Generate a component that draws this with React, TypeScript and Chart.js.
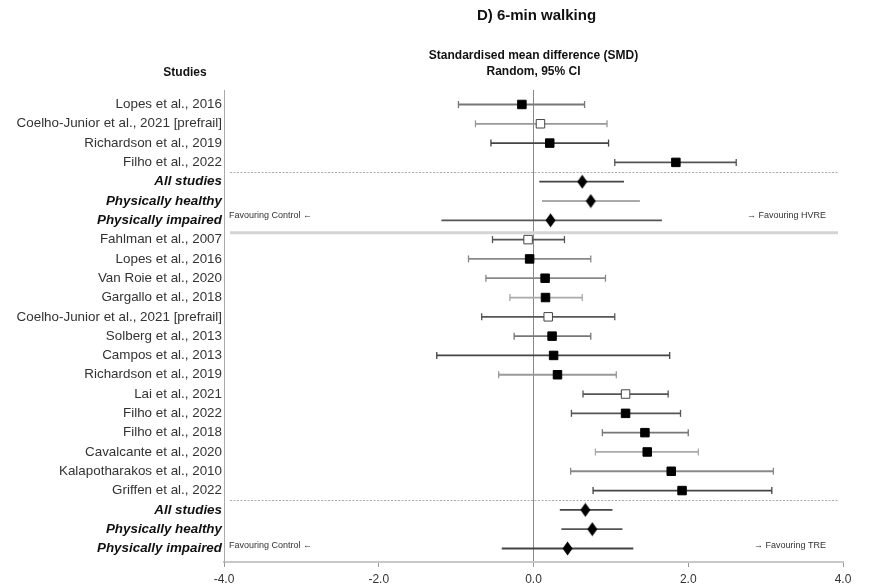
import React, { useEffect, useRef } from 'react';
import { Chart, registerables } from 'chart.js';

Chart.register(...registerables);

const studies = [
  'Lopes et al., 2016',
  'Coelho-Junior et al., 2021 [prefrail]',
  'Richardson et al., 2019',
  'Filho et al., 2022',
  'All studies',
  'Physically healthy',
  'Physically impaired',
  'Fahlman et al., 2007',
  'Lopes et al., 2016',
  'Van Roie et al., 2020',
  'Gargallo et al., 2018',
  'Coelho-Junior et al., 2021 [prefrail]',
  'Solberg et al., 2013',
  'Campos et al., 2013',
  'Richardson et al., 2019',
  'Lai et al., 2021',
  'Filho et al., 2022',
  'Filho et al., 2018',
  'Cavalcante et al., 2020',
  'Kalapotharakos et al., 2010',
  'Griffen et al., 2022',
  'All studies',
  'Physically healthy',
  'Physically impaired',
];

const smd = [-0.15, 0.09, 0.21, 1.84, 0.63, 0.74, 0.22, -0.07, -0.05, 0.15, 0.155, 0.19, 0.24, 0.26, 0.31, 1.19, 1.19, 1.44, 1.47, 1.78, 1.92, 0.67, 0.76, 0.44];
const ciLow = [-0.97, -0.75, -0.55, 1.05, 0.075, 0.11, -1.19, -0.53, -0.84, -0.615, -0.305, -0.67, -0.25, -1.25, -0.45, 0.64, 0.49, 0.89, 0.8, 0.48, 0.77, 0.34, 0.36, -0.41];
const ciHigh = [0.66, 0.95, 0.97, 2.62, 1.17, 1.375, 1.66, 0.4, 0.74, 0.93, 0.63, 1.05, 0.74, 1.76, 1.07, 1.74, 1.9, 2.0, 2.13, 3.1, 3.08, 1.02, 1.15, 1.29];
// 'f' = filled square, 'o' = open square, 's' = summary diamond
const markerKind = ['f', 'o', 'f', 'f', 's', 's', 's', 'o', 'f', 'f', 'f', 'o', 'f', 'f', 'f', 'o', 'f', 'f', 'f', 'f', 'f', 's', 's', 's'];
const xTicks = [-4, -2, 0, 2, 4];

const title = 'D) 6-min walking';
const effectTitle = ['Standardised mean difference (SMD)', 'Random, 95% CI'];
const studiesHeader = 'Studies';
const favourLeft = 'Favouring Control \u2190';
const favourRightTop = '\u2192 Favouring HVRE';
const favourRightBottom = '\u2192 Favouring TRE';

// styles (kept separate from data)
const ciShade = ['#777', '#999', '#444', '#555', '#444', '#aaa', '#555', '#555', '#888', '#888', '#aaa', '#555', '#777', '#444', '#999', '#555', '#555', '#777', '#aaa', '#888', '#444', '#444', '#555', '#444'];
const FONT = '"Liberation Sans", Arial, sans-serif';

function makeDiamond(): HTMLCanvasElement {
  const c = document.createElement('canvas');
  c.width = 11;
  c.height = 15;
  const g = c.getContext('2d')!;
  g.fillStyle = '#000';
  g.beginPath();
  g.moveTo(5.5, 0.5);
  g.lineTo(10.5, 7.5);
  g.lineTo(5.5, 14.5);
  g.lineTo(0.5, 7.5);
  g.closePath();
  g.fill();
  return c;
}

export default function App() {
  const ref = useRef<HTMLCanvasElement | null>(null);

  useEffect(() => {
    if (!ref.current) return;
    const diamond = makeDiamond();
    const rows = studies.map((_, i) => i);

    const ciSets = rows.map((i) => ({
      type: 'scatter' as const,
      data: [
        { x: ciLow[i], y: i },
        { x: ciHigh[i], y: i },
      ],
      showLine: true,
      borderColor: ciShade[i],
      borderWidth: 1.8,
      pointRadius: 0,
      order: 3,
    }));

    const capPoints: { x: number; y: number }[] = [];
    const capColors: string[] = [];
    rows.forEach((i) => {
      if (markerKind[i] !== 's') {
        capPoints.push({ x: ciLow[i], y: i }, { x: ciHigh[i], y: i });
        capColors.push(ciShade[i], ciShade[i]);
      }
    });

    const overlay = {
      id: 'forestOverlay',
      beforeDatasetsDraw(chart: any) {
        const { ctx, chartArea, scales } = chart;
        const y = scales.y;
        const x0 = chartArea.left + 6;
        const x1 = chartArea.right - 5;
        ctx.save();
        ctx.strokeStyle = '#aaa';
        ctx.lineWidth = 1;
        ctx.setLineDash([2, 1.5]);
        [3.5, 20.5].forEach((r) => {
          const py = Math.round(y.getPixelForValue(r)) + 0.5;
          ctx.beginPath();
          ctx.moveTo(x0, py);
          ctx.lineTo(x1, py);
          ctx.stroke();
        });
        ctx.setLineDash([]);
        ctx.strokeStyle = '#d4d4d4';
        ctx.lineWidth = 3;
        const py = y.getPixelForValue(6.65);
        ctx.beginPath();
        ctx.moveTo(x0, py);
        ctx.lineTo(x1, py);
        ctx.stroke();
        ctx.restore();
      },
      afterDraw(chart: any) {
        const { ctx, chartArea, scales } = chart;
        const cx = scales.x.getPixelForValue(0);
        ctx.save();
        ctx.fillStyle = '#111';
        ctx.textAlign = 'center';
        ctx.textBaseline = 'middle';
        ctx.font = `bold 15px ${FONT}`;
        ctx.fillText(title, cx + 3, 16);
        ctx.font = `bold 12px ${FONT}`;
        ctx.fillText(effectTitle[0], cx, 56);
        ctx.fillText(effectTitle[1], cx, 72);
        ctx.fillText(studiesHeader, 185, 73);

        ctx.font = `9px ${FONT}`;
        ctx.fillStyle = '#333';
        const yTop = scales.y.getPixelForValue(6) - 5;
        const yBot = scales.y.getPixelForValue(23) - 3;
        ctx.textAlign = 'left';
        ctx.fillText(favourLeft, chartArea.left + 5, yTop);
        ctx.fillText(favourLeft, chartArea.left + 5, yBot);
        ctx.textAlign = 'right';
        ctx.fillText(favourRightTop, chartArea.right - 17, yTop);
        ctx.fillText(favourRightBottom, chartArea.right - 17, yBot);
        ctx.restore();
      },
    };

    const chart = new Chart(ref.current, {
      type: 'scatter',
      data: {
        datasets: [
          {
            data: rows.map((i) => ({ x: smd[i], y: i })),
            pointStyle: (c: any) => (markerKind[c.dataIndex] === 's' ? diamond : 'rect'),
            pointRadius: 6,
            backgroundColor: (c: any) => (markerKind[c.dataIndex] === 'o' ? '#fff' : '#000'),
            borderColor: (c: any) => (markerKind[c.dataIndex] === 'o' ? '#444' : '#000'),
            borderWidth: 1,
            order: 1,
          } as any,
          {
            data: capPoints,
            pointStyle: 'line',
            rotation: 90,
            pointRadius: 3.5,
            borderWidth: 1.3,
            borderColor: capColors,
            order: 2,
          } as any,
          ...ciSets,
        ],
      },
      options: {
        animation: false,
        responsive: false,
        events: [],
        layout: { padding: { left: 0, right: 27, top: 90, bottom: 0 } },
        plugins: { legend: { display: false }, tooltip: { enabled: false }, title: { display: false } },
        scales: {
          x: {
            type: 'linear',
            min: -4,
            max: 4,
            afterBuildTicks: (s: any) => {
              s.ticks = xTicks.map((v) => ({ value: v }));
            },
            afterFit: (s: any) => {
              s.height = 26;
            },
            border: { display: true, color: '#c8c8c8', width: 2 },
            grid: {
              drawOnChartArea: true,
              drawTicks: true,
              tickLength: 5,
              tickColor: '#999',
              lineWidth: 1,
              color: (c: any) => (c.tick && c.tick.value === 0 ? '#888' : 'rgba(0,0,0,0)'),
            },
            ticks: {
              padding: 5,
              color: '#333',
              font: { family: FONT, size: 12 },
              callback: (v: any) => Number(v).toFixed(1),
            },
          },
          y: {
            type: 'linear',
            reverse: true,
            min: -0.75,
            max: 23.7,
            afterBuildTicks: (s: any) => {
              s.ticks = rows.map((v) => ({ value: v }));
            },
            afterFit: (s: any) => {
              s.width = 224;
            },
            border: { display: true, color: '#aaa', width: 1 },
            grid: { display: false, drawTicks: false },
            ticks: {
              padding: 2,
              autoSkip: false,
              color: (c: any) => (markerKind[c.tick?.value] === 's' ? '#111' : '#333'),
              font: (c: any) =>
                markerKind[c.tick?.value] === 's'
                  ? { family: FONT, size: 13.4, style: 'italic', weight: 'bold' }
                  : { family: FONT, size: 13.4 },
              callback: (v: any) => studies[v] ?? '',
            },
          },
        },
      } as any,
      plugins: [overlay],
    });

    return () => chart.destroy();
  }, []);

  return (
    <div style={{ position: 'absolute', left: 0, top: 0, width: 870, height: 588, background: '#fff' }}>
      <canvas ref={ref} width={870} height={588} style={{ display: 'block' }} />
    </div>
  );
}
